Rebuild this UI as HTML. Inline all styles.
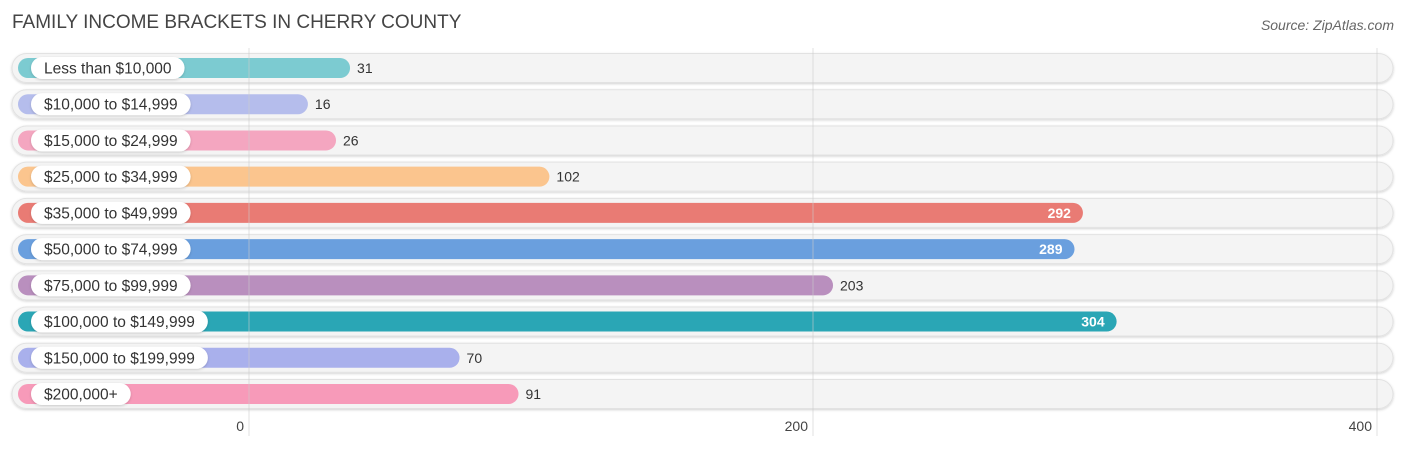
<!DOCTYPE html>
<html><head><meta charset="utf-8"><style>
body{margin:0;background:#fff;font-family:"Liberation Sans",Arial,sans-serif}
svg text{font-family:"Liberation Sans",Arial,sans-serif}
</style></head><body>
<svg id="c" width="1406" height="450" xmlns="http://www.w3.org/2000/svg">
<defs><filter id="sh" x="-5%" y="-30%" width="110%" height="160%"><feDropShadow dx="0" dy="1" stdDeviation="1.2" flood-color="#000" flood-opacity="0.18"/></filter></defs>
<text x="12" y="28" font-size="19" fill="#444">FAMILY INCOME BRACKETS IN CHERRY COUNTY</text>
<text x="1394" y="30" font-size="14" fill="#666" font-style="italic" text-anchor="end">Source: ZipAtlas.com</text>
<g id="rows"></g><g id="grid"></g><g id="ticks"></g>
</svg>
<script>
const categories=["Less than $10,000","$10,000 to $14,999","$15,000 to $24,999","$25,000 to $34,999","$35,000 to $49,999","$50,000 to $74,999","$75,000 to $99,999","$100,000 to $149,999","$150,000 to $199,999","$200,000+"];
const values=[31,16,26,102,292,289,203,304,70,91];
const colors=["#7ccbd1","#b5bdec","#f4a6c0","#fbc58e","#e97b74","#6a9fde","#b98fbe","#2aa6b5","#a9b0ec","#f79ab9"];
const tickValues=[0,200,400];
const NS="http://www.w3.org/2000/svg";
const x=v=>263+v*2.808;
const gx=v=>249+v*2.82;
const y0=68, step=36.22;
function mk(t,a,p){const e=document.createElementNS(NS,t);for(const k in a)e.setAttribute(k,a[k]);p.appendChild(e);return e;}
const rows=document.getElementById('rows');
categories.forEach((c,i)=>{
  const cy=y0+i*step;
  const g=mk('g',{},rows);
  
  
  const tr=mk('rect',{x:12,y:cy-14.5,width:1381,height:29,rx:14.5,fill:'#f4f4f4',stroke:'#e2e2e2','stroke-width':1,filter:'url(#sh)'},g);
  
  
  const b=mk('rect',{x:18,y:cy-10,width:x(values[i])-18,height:20,rx:10,fill:colors[i]},g);
  
  
  const lt=mk('text',{x:44,y:cy+5.5,'font-size':15.5,fill:'#333'},g);
  lt.textContent=c;
  const w=lt.getComputedTextLength();
  const p=mk('rect',{x:31,y:cy-11,width:w+26,height:22,rx:11,fill:'#fff',filter:'url(#sh)'},g);
  g.insertBefore(p,lt);
  
  
  
  
  const inside=values[i]>250;
  const vt=mk('text',{x:inside?x(values[i])-12:x(values[i])+7,y:cy+5,'font-size':14,fill:inside?'#fff':'#333','text-anchor':inside?'end':'start','font-weight':inside?'bold':'normal'},g);
  vt.textContent=values[i];
  
  
});
const grid=document.getElementById('grid'),ticks=document.getElementById('ticks');
tickValues.forEach(v=>{
  const l=mk('line',{x1:gx(v),x2:gx(v),y1:48,y2:436,stroke:'#ccc','stroke-width':1,opacity:0.6},grid);
  
  
  const t=mk('text',{x:gx(v)-5,y:431,'font-size':14,fill:'#444','text-anchor':'end'},ticks);
  t.textContent=v;
  
  
});
</script>
</body></html>
